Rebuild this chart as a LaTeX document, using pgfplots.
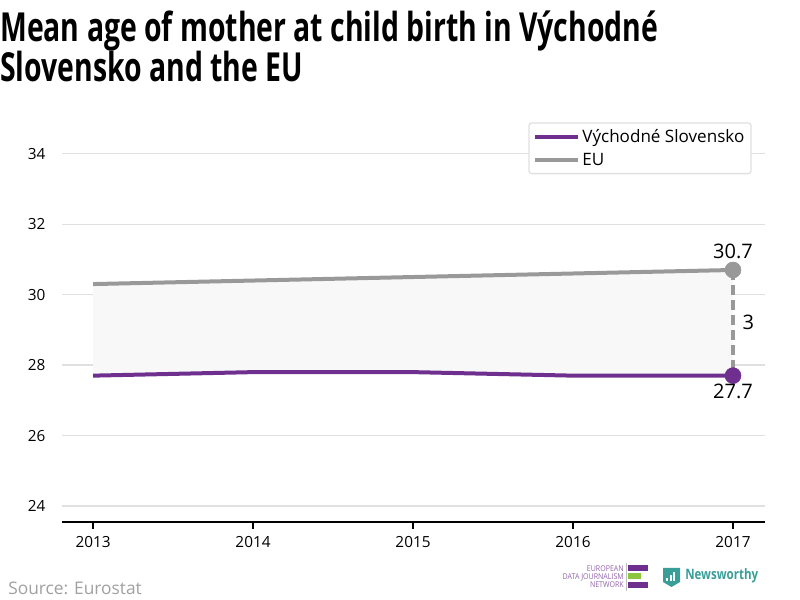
\documentclass[border=0pt]{standalone}
\usepackage{pgfplots}
\pgfplotsset{compat=1.18}
\usepgfplotslibrary{fillbetween}
\usepackage{fontspec}
\setmainfont{Open Sans}
\newfontfamily\titlefont{Open Sans}[FakeStretch=0.71]
\newfontfamily\logofont{Open Sans}[FakeStretch=0.8]
\newfontfamily\edjnfont{Open Sans}[FakeStretch=0.88]
\definecolor{vspurple}{HTML}{6E2F8E}
\definecolor{eugray}{HTML}{999999}
\definecolor{gridgray}{HTML}{E0E0E0}
\definecolor{fillgray}{HTML}{F8F8F8}
\definecolor{srcgray}{HTML}{A0A0A0}
\definecolor{nwteal}{HTML}{3A9E98}
\definecolor{edjngreen}{HTML}{8CC63F}
\begin{document}
\begin{tikzpicture}
\begin{axis}[
  at={(46.5pt,58.5pt)}, anchor=south west,
  scale only axis, width=527.25pt, height=305.25pt,
  xmin=-0.194, xmax=4.2, ymin=23.545, ymax=35.1,
  axis x line*=bottom, axis y line*=left,
  x axis line style={black, line width=1.4pt, -},
  y axis line style={draw=none},
  xtick={0,1,2,3,4},
  xticklabels={2013,2014,2015,2016,2017},
  ytick={24,26,28,30,32,34},
  ymajorgrids, grid style={gridgray, line width=1pt},
  xtick style={black, line width=1pt},
  ytick style={draw=none},
  major tick length=5pt,
  tick align=outside,
  x tick label style={font=\fontsize{11.5}{13}\selectfont, yshift=-2pt},
  y tick label style={font=\fontsize{11.5}{13}\selectfont, xshift=-4pt},
  /pgf/number format/assume math mode=true,
  clip=false,
  legend style={at={(0.981,0.982)}, anchor=north east, draw=gridgray, line width=1pt, rounded corners=2pt,
    font=\fontsize{12.8}{15}\selectfont, row sep=3pt, inner xsep=3pt, inner ysep=2.5pt},
  legend cell align=left,
  legend image code/.code={\draw[#1, line width=3pt] (0pt,0pt) -- (28pt,0pt); \path (0pt,0pt) -- (32pt,0pt);},
]
\addplot[name path=eu, draw=none, forget plot] coordinates {(0,30.3) (1,30.4) (2,30.5) (3,30.6) (4,30.7)};
\addplot[name path=vs, draw=none, forget plot] coordinates {(0,27.7) (1,27.8) (2,27.8) (3,27.7) (4,27.7)};
\addplot[fillgray, forget plot] fill between[of=eu and vs];
\addplot[eugray, line width=2.4pt, dash pattern=on 7.5pt off 3.75pt, forget plot] coordinates {(4,30.7) (4,27.7)};
\addplot[vspurple, line width=3pt] coordinates {(0,27.7) (1,27.8) (2,27.8) (3,27.7) (4,27.7)};
\addlegendentry{Východné Slovensko}
\addplot[eugray, line width=3pt] coordinates {(0,30.3) (1,30.4) (2,30.5) (3,30.6) (4,30.7)};
\addlegendentry{EU}
\addplot[only marks, mark=*, mark size=6pt, mark options={fill=eugray, draw=eugray}, forget plot,
  nodes near coords={30.7}, every node near coord/.style={anchor=south, yshift=4.5pt, font=\fontsize{15}{17}\selectfont}] coordinates {(4,30.7)};
\addplot[only marks, mark=*, mark size=6pt, mark options={fill=vspurple, draw=vspurple}, forget plot,
  nodes near coords={27.7}, every node near coord/.style={anchor=north, yshift=-2.5pt, font=\fontsize{15}{17}\selectfont}] coordinates {(4,27.7)};
\node[anchor=west, font=\fontsize{15}{17}\selectfont] at (axis cs:4.03,29.2) {3};
\end{axis}
\begin{scope}[x=0.75pt,y=0.75pt]
\node[anchor=base west, inner sep=0pt, font=\titlefont\bfseries\fontsize{30}{34}\selectfont] at (0,600-42) {Mean age of mother at child birth in Východné};
\node[anchor=base west, inner sep=0pt, font=\titlefont\bfseries\fontsize{30}{34}\selectfont] at (0,600-82) {Slovensko and the EU};
\node[anchor=base west, inner sep=0pt, text=srcgray, font=\fontsize{13}{15}\selectfont] at (8,600-594) {Source: Eurostat};
% EDJN logo
\node[anchor=east, inner sep=0pt, align=right, text=vspurple!75, font=\edjnfont\fontsize{6}{6}\selectfont] at (624,600-576.5) {EUROPEAN\\DATA JOURNALISM\\NETWORK};
\draw[gray!50, line width=0.4pt] (626,600-563) -- (626,600-591);
\fill[vspurple] (628,600-565) rectangle (648,600-571);
\fill[edjngreen] (628,600-573.5) rectangle (641,600-579.5);
\fill[vspurple] (628,600-582) rectangle (648,600-588);
% Newsworthy logo
\fill[nwteal] (663,600-568) -- (680,600-568) -- (680,600-582) -- (671.5,600-587) -- (663,600-582) -- cycle;
\fill[white] (666,600-578) rectangle (668,600-581);
\fill[white] (669.5,600-575) rectangle (671.5,600-581);
\fill[white] (673,600-572) rectangle (675,600-581);
\node[anchor=west, inner sep=0pt, text=nwteal, font=\logofont\bfseries\fontsize{10.8}{13}\selectfont] at (685,600-576) {Newsworthy};
\end{scope}
\pgfresetboundingbox
\path[use as bounding box] (0,0) rectangle (600pt,450pt);
\end{tikzpicture}
\end{document}
